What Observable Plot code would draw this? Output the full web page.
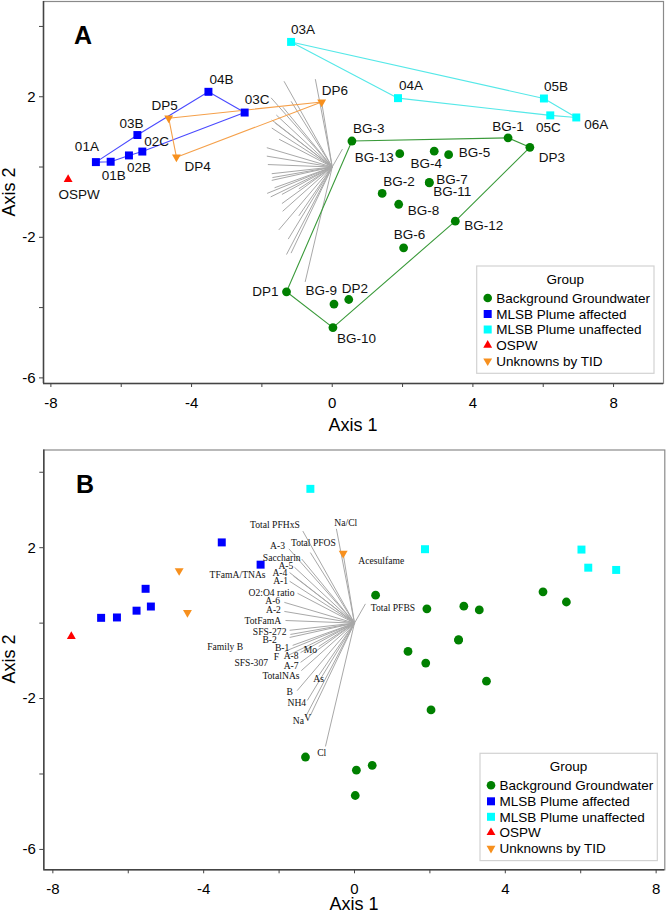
<!DOCTYPE html>
<html><head><meta charset="utf-8">
<script src="https://cdn.jsdelivr.net/npm/d3@7"></script>
<script src="https://cdn.jsdelivr.net/npm/@observablehq/plot@0.6"></script>
<style>body{margin:0;background:#fff} svg{display:block;overflow:visible}</style>
</head><body><div id="chart"></div>
<script>
// ---------- data ----------
const groups = ["Background Groundwater","MLSB Plume affected","MLSB Plume unaffected","OSPW","Unknowns by TID"];
const groupColors = ["#008000","#0000ff","#00ffff","#ff0000","#f7901e"];
const hullColors = ["#3a9a3a","#4a4aff","#55e8e8",null,"#f5a04a"];

const sampleNames = ["03A","04A","05B","05C","06A",
  "04B","03C","03B","02C","02B","01B","01A",
  "OSPW","DP5","DP4","DP6",
  "BG-3","BG-1","DP3","BG-13","BG-4","BG-5","BG-7","BG-11","BG-2","BG-8","BG-12","BG-6","DP1","BG-9","DP2","BG-10"];
const sampleGroups = ["MLSB Plume unaffected","MLSB Plume unaffected","MLSB Plume unaffected","MLSB Plume unaffected","MLSB Plume unaffected",
  "MLSB Plume affected","MLSB Plume affected","MLSB Plume affected","MLSB Plume affected","MLSB Plume affected","MLSB Plume affected","MLSB Plume affected",
  "OSPW","Unknowns by TID","Unknowns by TID","Unknowns by TID",
  "Background Groundwater","Background Groundwater","Background Groundwater","Background Groundwater","Background Groundwater","Background Groundwater","Background Groundwater","Background Groundwater","Background Groundwater","Background Groundwater","Background Groundwater","Background Groundwater","Background Groundwater","Background Groundwater","Background Groundwater","Background Groundwater"];
const sampleAxis1 = [-1.17, 1.87, 6.02, 6.20, 6.94,
  -3.52, -2.49, -5.54, -5.40, -5.78, -6.30, -6.72,
  -7.51, -4.65, -4.43, -0.30,
  0.56, 5.00, 5.62, 1.92, 2.90, 3.31, 2.76, 2.76, 1.42, 1.89, 3.50, 2.03, -1.30, 0.05, 0.47, 0.02];
const sampleAxis2 = [3.56, 1.96, 1.95, 1.47, 1.41,
  2.14, 1.55, 0.91, 0.44, 0.33, 0.15, 0.14,
  -0.35, 1.39, 0.28, 1.85,
  0.74, 0.83, 0.56, 0.38, 0.45, 0.35, -0.44, -0.45, -0.75, -1.06, -1.54, -2.30, -3.55, -3.90, -3.77, -4.57];

// hull outlines (panel A)
const hullGreen = ["BG-3","BG-1","DP3","BG-12","BG-10","DP1","BG-3"];
const hullBlue = ["01A","03B","04B","03C","02C","02B","01B","01A"];
const hullCyan = ["03A","05B","06A","05C","04A","03A"];
const hullOrange = ["DP5","DP6","DP4","DP5"];

// variable vectors (biplot)
const variableNames = ["Total PFHxS","Na/Cl","A-3","Total PFOS","Saccharin","A-5","A-4","TFamA/TNAs","A-1","O2:O4 ratio",
  "A-6","A-2","TotFamA","SFS-272","B-2","Family B","B-1","Mo","F","A-8","SFS-307","A-7","TotalNAs","As","B","NH4","Na","V","Cl","Acesulfame","Total PFBS"];
const variableAxis1 = [-1.37,-0.48,-1.74,-1.17,-1.40,-1.59,-1.72,-1.62,-1.72,-1.51,
  -1.86,-1.86,-1.83,-1.72,-1.72,-1.70,-1.64,-0.95,-1.85,-1.43,-1.75,-1.43,-1.41,-0.95,-1.52,-1.25,-1.30,-1.17,-0.77,-0.30,0.29];
const variableAxis2 = [2.44,2.50,1.97,1.87,1.70,1.48,1.34,1.25,1.11,0.79,
  0.55,0.31,0.07,-0.19,-0.38,-0.30,-0.59,-0.62,-0.75,-0.78,-0.85,-1.04,-1.26,-1.39,-1.79,-2.05,-2.49,-2.45,-3.27,1.84,0.51];

// ---------- layout (label placement) ----------
const varLabelAt = [[-2.11,2.61],[-0.23,2.66],[-2.04,2.06],[-1.09,2.13],[-1.93,1.73],[-1.82,1.51],[-1.98,1.34],[-3.10,1.29],[-1.96,1.11],[-2.20,0.80],
  [-2.17,0.58],[-2.15,0.34],[-2.43,0.07],[-2.25,-0.22],[-2.25,-0.44],[-3.43,-0.62],[-1.92,-0.65],[-1.17,-0.70],[-2.07,-0.90],[-1.68,-0.88],
  [-2.74,-1.05],[-1.68,-1.14],[-1.95,-1.39],[-0.95,-1.47],[-1.72,-1.83],[-1.53,-2.12],[-1.49,-2.58],[-1.24,-2.51],[-0.87,-3.45],[0.71,1.64],[1.02,0.40]];
const pointLabelLayout = {
  "03A":["start",0,-12],"04B":["start",1,-12],"03C":["start",0,-13],"DP5":["end",9,-13],"03B":["middle",-6,-11],
  "02C":["start",2,-10],"01A":["end",3,-15],"01B":["start",-9,14],"02B":["start",-2,12],"DP4":["start",8,9],
  "OSPW":["middle",11,15],"DP6":["start",0,-11],"04A":["start",1,-12],"05B":["start",0,-12],"05C":["middle",-2,12],
  "06A":["start",8,7],"BG-3":["start",1,-12],"BG-1":["middle",0,-11],"DP3":["start",9,10],"BG-13":["end",-6,4],
  "BG-4":["middle",-8,12],"BG-5":["start",10,-2],"BG-7":["start",7,-3],"BG-11":["start",4,9],"BG-2":["start",1,-12],
  "BG-8":["start",9,6],"BG-12":["start",9,5],"BG-6":["middle",6,-13],"BG-9":["end",3,-13],"DP2":["start",-7,-11],
  "BG-10":["start",4,11],"DP1":["end",-8,0]
};

// ---------- build ----------
const samples = sampleNames.map((n,i)=>({name:n, group:sampleGroups[i], a1:sampleAxis1[i], a2:sampleAxis2[i]}));
const byName = Object.fromEntries(samples.map(d=>[d.name,d]));
const vectors = variableNames.map((n,i)=>({name:n, a1:variableAxis1[i], a2:variableAxis2[i], lx:varLabelAt[i][0], ly:varLabelAt[i][1]}));
const SANS = "'Liberation Sans', Arial, sans-serif";

function dotMarks() {
  return [
    Plot.dot(samples.filter(d=>d.group===groups[0]), {x:"a1", y:"a2", symbol:"circle", r:4.4, fill:groupColors[0]}),
    Plot.dot(samples.filter(d=>d.group===groups[1]), {x:"a1", y:"a2", symbol:"square", r:4.5, fill:groupColors[1]}),
    Plot.dot(samples.filter(d=>d.group===groups[2]), {x:"a1", y:"a2", symbol:"square", r:4.5, fill:groupColors[2]}),
    Plot.dot(samples.filter(d=>d.group===groups[3]), {x:"a1", y:"a2", symbol:"triangle", r:3.3, fill:groupColors[3]}),
    Plot.dot(samples.filter(d=>d.group===groups[4]), {x:"a1", y:"a2", symbol:"triangle", r:3.3, rotate:180, fill:groupColors[4]})
  ];
}
function axisMarks(xd, yd) {
  return [
    Plot.frame({stroke:"#8a8a8a", strokeWidth:1.2}),
    Plot.ruleX([xd[0]], {stroke:"#444", strokeWidth:1.5}),
    Plot.ruleY([yd[0]], {stroke:"#444", strokeWidth:1.5}),
    Plot.axisX({ticks:d3.range(-8,9,2), tickFormat:d=> d%4===0 ? String(d) : "", tickSize:4, tickPadding:10, fontSize:15, label:null, stroke:"#444", fill:"#000"}),
    Plot.axisY({ticks:d3.range(-6,5,2), tickFormat:d=> (d===2||d===-2||d===-6) ? String(d) : "", tickSize:4, tickPadding:4, fontSize:15, label:null, stroke:"#444", fill:"#000"})
  ];
}
function legend(svg, left, top) {
  const g = d3.select(svg).append("g").attr("transform",`translate(${left},${top})`)
    .style("font-family",SANS).style("font-size","13.5px").attr("text-anchor","start");
  g.append("rect").attr("width",177.3).attr("height",107.3).attr("fill","#fff").attr("stroke","#d2d2d2").attr("stroke-width",1.2);
  g.append("text").attr("x",88.6).attr("y",13).attr("dy","0.35em").attr("text-anchor","middle").text("Group");
  const syms = [[d3.symbolCircle,58,0],[d3.symbolSquare,64,0],[d3.symbolSquare,64,0],[d3.symbolTriangle,34,0],[d3.symbolTriangle,34,180]];
  const ys = [32,48,63.5,79.2,95];
  groups.forEach((grp,i)=>{
    g.append("path").attr("d", d3.symbol(syms[i][0], syms[i][1])())
      .attr("transform",`translate(11,${ys[i]}) rotate(${syms[i][2]})`).attr("fill",groupColors[i]);
    g.append("text").attr("x",19.5).attr("y",ys[i]).attr("dy","0.35em").attr("text-anchor","start").text(grp);
  });
}
function addText(svg, x, y, txt, opts={}) {
  const t = d3.select(svg).append("text").attr("x",x).attr("y",y).text(txt)
    .style("font-family",SANS).style("font-size",(opts.size||18)+"px").attr("text-anchor",opts.anchor||"middle");
  if (opts.bold) t.style("font-weight","bold");
  if (opts.rotate) t.attr("transform",`rotate(-90 ${x} ${y})`);
}

// ---------- Panel A ----------
const xdA = [-8.21, 9.42], ydA = [-6.16, 4.71];
const hulls = [[hullGreen,hullColors[0]],[hullBlue,hullColors[1]],[hullCyan,hullColors[2]],[hullOrange,hullColors[4]]];
const plotA = Plot.plot({
  width:666, height:449, marginLeft:43, marginRight:3, marginTop:1, marginBottom:66,
  x:{domain:xdA}, y:{domain:ydA},
  style:{fontFamily:SANS, fontSize:"13.5px", background:"#fff"},
  marks:[
    ...axisMarks(xdA, ydA),
    Plot.link(vectors, {x1:0, y1:0, x2:"a1", y2:"a2", stroke:"#a8a8a8", strokeWidth:1}),
    ...hulls.map(([names,c])=>Plot.line(names.map(n=>byName[n]), {x:"a1", y:"a2", stroke:c, strokeWidth:1.1})),
    ...dotMarks(),
    ...samples.map(d=>{
      const [anc,dx,dy] = pointLabelLayout[d.name];
      return Plot.text([d], {x:"a1", y:"a2", text:"name", textAnchor:anc, dx, dy, fill:"#111", fontSize:13.5});
    })
  ]
});
addText(plotA, 74, 44, "A", {size:25, bold:true, anchor:"start"});
addText(plotA, 353, 431, "Axis 1");
addText(plotA, 15, 192, "Axis 2", {rotate:true});
legend(plotA, 476.7, 266);

// ---------- Panel B ----------
const xdB = [-8.24, 8.23], ydB = [-6.54, 4.59];
const plotB = Plot.plot({
  width:666, height:467, marginLeft:43.3, marginRight:1.7, marginTop:0.5, marginBottom:46.7,
  x:{domain:xdB}, y:{domain:ydB},
  style:{fontFamily:SANS, fontSize:"13.5px", background:"#fff"},
  marks:[
    ...axisMarks(xdB, ydB),
    Plot.link(vectors, {x1:0, y1:0, x2:"a1", y2:"a2", stroke:"#a8a8a8", strokeWidth:1}),
    ...dotMarks(),
    Plot.text(vectors, {x:"lx", y:"ly", text:"name", fontFamily:"'Liberation Serif', 'Times New Roman', serif", fontSize:9.6, fill:"#111", textAnchor:"middle", lineAnchor:"middle"})
  ]
});
addText(plotB, 76, 44, "B", {size:25, bold:true, anchor:"start"});
addText(plotB, 354, 461, "Axis 1");
addText(plotB, 15, 210, "Axis 2", {rotate:true});
legend(plotB, 480, 304.3);

document.getElementById("chart").append(plotA, plotB);
</script>
</body></html>
